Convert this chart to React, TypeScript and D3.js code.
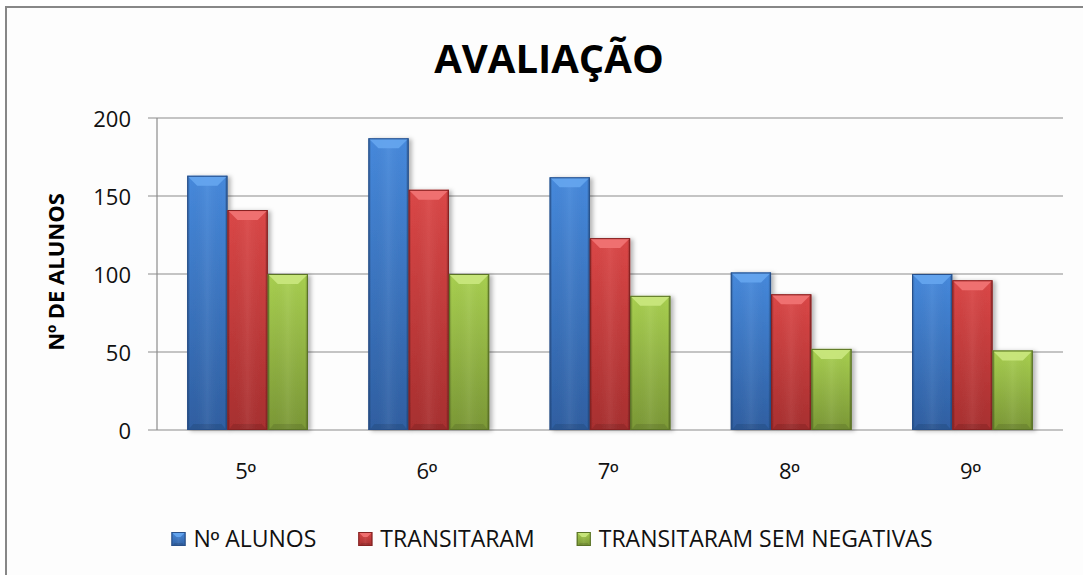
import React, { useEffect, useRef } from "react";
import * as d3 from "d3";

const categories = ["5º", "6º", "7º", "8º", "9º"];
const seriesNames = ["Nº ALUNOS", "TRANSITARAM", "TRANSITARAM SEM NEGATIVAS"];
const nAlunos = [163, 187, 162, 101, 100];
const transitaram = [141, 154, 123, 87, 96];
const semNegativas = [100, 100, 86, 52, 51];
const yTicks = [0, 50, 100, 150, 200];

const palettes = [
  { top: "#4689dc", bottom: "#2f5fa2", bevel: "#64a4ee", edge: "#28508a" },
  { top: "#db4747", bottom: "#a82f2f", bevel: "#f07272", edge: "#862323" },
  { top: "#a8cf50", bottom: "#7b9836", bevel: "#c8e67c", edge: "#5a7327" },
];

const W = 1083;
const H = 575;
const FONT = "'Open Sans', 'DejaVu Sans', sans-serif";
const ORD_FONT = "'Liberation Sans', 'DejaVu Sans', sans-serif";

// append text where "º" is drawn with a font that has the underlined ordinal glyph
const fillText = (t: any, s: string) => {
  s.split(/(º)/).filter((p) => p.length).forEach((part) => {
    const sp = t.append("tspan").text(part);
    if (part === "º") sp.attr("font-family", ORD_FONT);
  });
};

export default function App() {
  const ref = useRef<SVGSVGElement>(null);

  useEffect(() => {
    const svg = d3.select(ref.current);
    svg.selectAll("*").remove();

    const values = [nAlunos, transitaram, semNegativas];
    const left = 157, right = 1063, top = 118, bottom = 430;

    const defs = svg.append("defs");
    palettes.forEach((p, i) => {
      const g = defs.append("linearGradient").attr("id", "face" + i)
        .attr("x1", 0).attr("y1", 0).attr("x2", 0).attr("y2", 1);
      g.append("stop").attr("offset", "0%").attr("stop-color", p.top);
      g.append("stop").attr("offset", "100%").attr("stop-color", p.bottom);
    });
    const side = defs.append("linearGradient").attr("id", "side")
      .attr("x1", 0).attr("y1", 0).attr("x2", 1).attr("y2", 0);
    side.append("stop").attr("offset", "0%").attr("stop-color", "#000").attr("stop-opacity", 0.3);
    side.append("stop").attr("offset", "7%").attr("stop-color", "#000").attr("stop-opacity", 0);
    side.append("stop").attr("offset", "50%").attr("stop-color", "#fff").attr("stop-opacity", 0.06);
    side.append("stop").attr("offset", "93%").attr("stop-color", "#000").attr("stop-opacity", 0);
    side.append("stop").attr("offset", "100%").attr("stop-color", "#000").attr("stop-opacity", 0.35);
    const f = defs.append("filter").attr("id", "shadow")
      .attr("x", "-20%").attr("y", "-10%").attr("width", "150%").attr("height", "130%");
    f.append("feDropShadow").attr("dx", 3).attr("dy", 1).attr("stdDeviation", 2)
      .attr("flood-color", "#000").attr("flood-opacity", 0.28);

    // frame
    svg.append("rect").attr("x", 0).attr("y", 0).attr("width", W).attr("height", H).attr("fill", "#fff");
    svg.append("rect").attr("x", 6).attr("y", 7).attr("width", W + 20).attr("height", H + 20)
      .attr("fill", "#fdfdfd").attr("stroke", "#878787").attr("stroke-width", 2);

    const y = d3.scaleLinear().domain([0, 200]).range([bottom, top]);
    const x0 = d3.scaleBand<string>().domain(categories).range([left, right]).padding(0);
    const x1 = d3.scaleBand<string>().domain(seriesNames).range([0, x0.bandwidth()])
      .paddingInner(0).paddingOuter(0.75);

    // gridlines
    svg.append("g").selectAll("line").data(yTicks).join("line")
      .attr("x1", left - 9).attr("x2", right)
      .attr("y1", (d) => y(d)).attr("y2", (d) => y(d))
      .attr("stroke", "#8c8c8c").attr("stroke-width", 1.2);
    svg.append("line").attr("x1", left).attr("x2", left).attr("y1", top).attr("y2", bottom)
      .attr("stroke", "#8c8c8c").attr("stroke-width", 1.2);

    // tick labels
    svg.append("g").selectAll("text").data(yTicks).join("text")
      .attr("x", 131).attr("y", (d) => y(d) + 9)
      .attr("text-anchor", "end").attr("font-family", FONT).attr("font-size", 22)
      .attr("fill", "#111").text((d) => String(d));

    // x labels
    const xl = svg.append("g");
    categories.forEach((c) => {
      const t = xl.append("text")
        .attr("x", (x0(c) as number) + x0.bandwidth() / 2 - 2)
        .attr("y", 479).attr("text-anchor", "middle").attr("font-family", FONT)
        .attr("font-size", 22).attr("fill", "#111");
      fillText(t, c);
    });

    const drawBar = (g: any, bx: number, by: number, w: number, h: number, i: number, b: number, bb: number) => {
      const p = palettes[i];
      const bar = g.append("g");
      bar.append("rect").attr("x", bx).attr("y", by).attr("width", w).attr("height", h)
        .attr("fill", `url(#face${i})`);
      bar.append("rect").attr("x", bx).attr("y", by).attr("width", w).attr("height", h)
        .attr("fill", "url(#side)");
      const tb = Math.min(b, h / 2);
      bar.append("polygon").attr("points",
        [[bx + 1, by + 1], [bx + w - 1, by + 1], [bx + w - tb, by + tb], [bx + tb, by + tb]].map((q) => q.join(",")).join(" "))
        .attr("fill", p.bevel).attr("opacity", 0.95);
      const btm = Math.min(bb, h / 2);
      bar.append("polygon").attr("points",
        [[bx + 1, by + h], [bx + w - 1, by + h], [bx + w - btm, by + h - btm], [bx + btm, by + h - btm]].map((q) => q.join(",")).join(" "))
        .attr("fill", "#000").attr("opacity", 0.1);
      bar.append("rect").attr("x", bx + 0.5).attr("y", by + 0.5).attr("width", w - 1).attr("height", h - 1)
        .attr("fill", "none").attr("stroke", p.edge).attr("stroke-width", 1);
      return bar;
    };

    // bars
    const bars = svg.append("g");
    categories.forEach((c, ci) => {
      seriesNames.forEach((s, si) => {
        const v = values[si][ci];
        const bx = (x0(c) as number) + (x1(s) as number);
        const by = y(v);
        const bar = drawBar(bars, bx, by, x1.bandwidth(), bottom - by, si, 10, 6);
        bar.attr("filter", "url(#shadow)");
      });
    });

    // title
    svg.append("text").attr("x", 549).attr("y", 73).attr("text-anchor", "middle")
      .attr("font-family", FONT).attr("font-weight", "bold").attr("font-size", 40)
      .attr("fill", "#000").text("AVALIAÇÃO");

    // y axis title
    const yt = svg.append("text").attr("transform", "translate(64,272) rotate(-90)")
      .attr("text-anchor", "middle").attr("font-family", FONT).attr("font-weight", "bold")
      .attr("font-size", 22).attr("fill", "#000");
    fillText(yt, "Nº DE ALUNOS");

    // legend
    const leg = svg.append("g");
    const items = seriesNames.map((name) => {
      const t = leg.append("text").attr("font-family", FONT).attr("font-size", 23)
        .attr("fill", "#111").attr("y", 547);
      fillText(t, name);
      const len = (t.node() as SVGTextElement).getComputedTextLength();
      return { t, len };
    });
    const sq = 14, gapSq = 8, gapItem = 42;
    const total = items.reduce((a, it) => a + sq + gapSq + it.len, 0) + gapItem * (items.length - 1);
    let cx = 552 - total / 2;
    items.forEach((it, i) => {
      drawBar(leg, cx, 532, sq, sq, i, 5, 3);
      it.t.attr("x", cx + sq + gapSq);
      cx += sq + gapSq + it.len + gapItem;
    });
  }, []);

  return (
    <svg ref={ref} width={W} height={H}
      style={{ position: "absolute", left: 0, top: 0, display: "block" }} />
  );
}
